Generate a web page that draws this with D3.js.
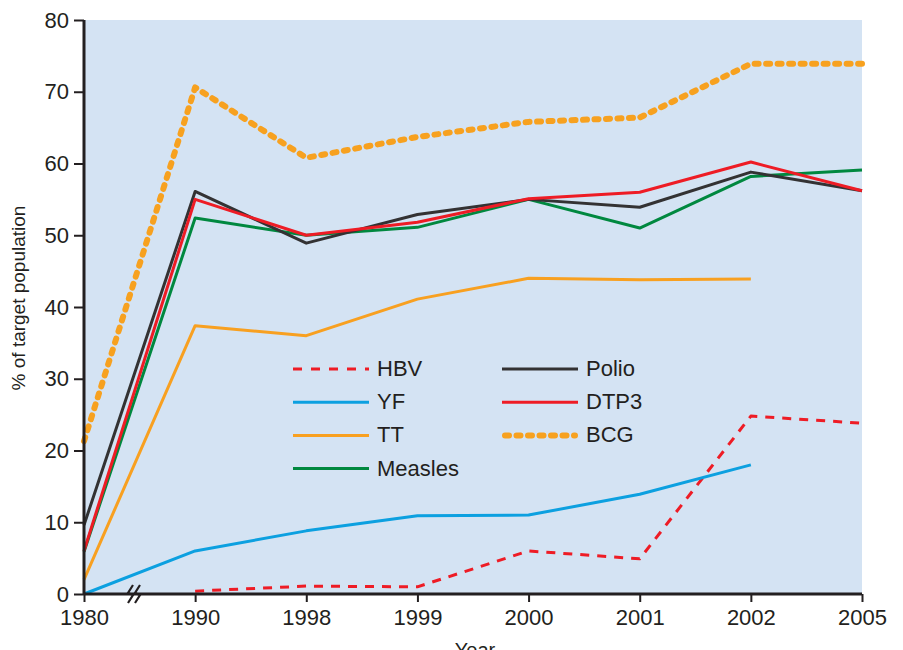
<!DOCTYPE html>
<html>
<head>
<meta charset="utf-8">
<script src="https://cdn.jsdelivr.net/npm/d3@7"></script>
<style>
body { margin: 0; background: #fff; }
svg { font-family: "Liberation Sans", Arial, sans-serif; }
</style>
</head>
<body>
<svg id="chart" width="903" height="650"></svg>
<script>
var years = ['1980', '1990', '1998', '1999', '2000', '2001', '2002', '2005'];
var yTicks = [0, 10, 20, 30, 40, 50, 60, 70, 80];

var hbv = [null, 0.4, 1.1, 1.0, 6.0, 4.9, 24.8, 23.8];
var yf = [0, 6.0, 8.8, 10.9, 11.0, 13.9, 18.0, null];
var tt = [2.0, 37.4, 36.0, 41.1, 44.0, 43.8, 43.9, null];
var measles = [5.9, 52.4, 50.0, 51.1, 55.0, 51.0, 58.2, 59.1];
var polio = [9.6, 56.1, 48.9, 52.9, 55.0, 53.9, 58.8, 56.2];
var dtp3 = [6.0, 55.0, 50.0, 51.8, 55.1, 56.0, 60.2, 56.2];
var bcg = [21.3, 70.6, 60.8, 63.7, 65.8, 66.4, 73.9, 73.9];

var series = [
    {name: 'HBV', values: hbv, color: '#ee1c25', width: 3, dash: '9,8', cap: 'butt'},
    {name: 'YF', values: yf, color: '#0ca0e0', width: 3, dash: null, cap: 'butt'},
    {name: 'TT', values: tt, color: '#f8a020', width: 3, dash: null, cap: 'butt'},
    {name: 'Measles', values: measles, color: '#00883f', width: 3, dash: null, cap: 'butt'},
    {name: 'Polio', values: polio, color: '#333233', width: 3, dash: null, cap: 'butt'},
    {name: 'DTP3', values: dtp3, color: '#ee1c25', width: 3, dash: null, cap: 'butt'},
    {name: 'BCG', values: bcg, color: '#f7a11f', width: 6, dash: '4,7.5', cap: 'round'}
];
// drawing order: back to front
var drawOrder = ['HBV', 'YF', 'TT', 'Measles', 'Polio', 'DTP3', 'BCG'];

var margin = {left: 84, right: 41, top: 20, bottom: 56};
var W = 903, H = 650;
var fontSize = '22px';
var svg = d3.select('#chart');

var x = d3.scalePoint().domain(years).range([margin.left, W - margin.right]);
var y = d3.scaleLinear().domain([0, 80]).range([H - margin.bottom, margin.top]);

svg.append('rect')
    .attr('x', margin.left).attr('y', margin.top)
    .attr('width', W - margin.right - margin.left)
    .attr('height', H - margin.bottom - margin.top)
    .attr('fill', '#d4e3f3');

var line = d3.line()
    .defined(function(d) { return d != null; })
    .x(function(d, i) { return x(years[i]); })
    .y(function(d) { return y(d); });

var lineLayer = svg.append('g').attr('class', 'lines');
drawOrder.forEach(function(n) {
    var s = series.find(function(d) { return d.name === n; });
    lineLayer.append('path')
        .attr('d', line(s.values))
        .attr('fill', 'none')
        .attr('stroke', s.color)
        .attr('stroke-width', s.width)
        .attr('stroke-dasharray', s.dash)
        .attr('stroke-linecap', s.cap)
        .attr('stroke-linejoin', 'round');
});

// axes
var axisColor = '#231f20';
var yAxis = svg.append('g')
    .attr('transform', 'translate(' + margin.left + ',0)')
    .call(d3.axisLeft(y).tickValues(yTicks).tickSize(10).tickPadding(5));
var xAxis = svg.append('g')
    .attr('transform', 'translate(0,' + (H - margin.bottom) + ')')
    .call(d3.axisBottom(x).tickSize(8).tickPadding(7));
[yAxis, xAxis].forEach(function(a) {
    a.select('.domain').attr('stroke', axisColor).attr('stroke-width', 3);
    a.selectAll('.tick line').attr('stroke', axisColor).attr('stroke-width', 2);
    a.selectAll('.tick text').attr('fill', axisColor)
        .style('font-size', fontSize).style('font-family', '"Liberation Sans", Arial, sans-serif');
});
yAxis.select('.domain').attr('d', 'M0,' + (H - margin.bottom) + 'V' + margin.top);
xAxis.select('.domain').attr('d', 'M' + margin.left + ',0H' + (W - margin.right));

// axis break mark between 1980 and 1990
var bx = 130, by = H - margin.bottom;
var brk = svg.append('g').attr('transform', 'translate(' + bx + ',' + by + ')');
[0, 7].forEach(function(off) {
    brk.append('path')
        .attr('d', 'M' + (off + 3) + ',-9 L' + (off - 2) + ',-1 L' + (off + 3) + ',1 L' + (off - 2) + ',9')
        .attr('fill', 'none')
        .attr('stroke', axisColor)
        .attr('stroke-width', 2.2)
        .attr('stroke-linejoin', 'miter');
});

svg.append('text')
    .attr('transform', 'translate(25,' + 298 + ') rotate(-90)')
    .attr('text-anchor', 'middle')
    .attr('fill', axisColor)
    .style('font-size', '19px')
    .text('% of target population');

svg.append('text')
    .attr('x', 475).attr('y', 657)
    .attr('text-anchor', 'middle')
    .attr('fill', axisColor)
    .style('font-size', '20px')
    .text('Year');

// legend
var legendCols = [
    {x: 293, names: ['HBV', 'YF', 'TT', 'Measles']},
    {x: 502, names: ['Polio', 'DTP3', 'BCG']}
];
var legend = svg.append('g').attr('class', 'legend');
legendCols.forEach(function(col) {
    col.names.forEach(function(n, i) {
        var s = series.find(function(d) { return d.name === n; });
        var ly = 369 + i * 33.2;
        var x0 = col.x, x1 = col.x + 76;
        if (s.cap === 'round') { x0 += 3; x1 -= 3; }
        legend.append('line')
            .attr('x1', x0).attr('x2', x1)
            .attr('y1', ly).attr('y2', ly)
            .attr('stroke', s.color)
            .attr('stroke-width', s.width)
            .attr('stroke-dasharray', s.name === 'HBV' ? '9,9' : s.dash)
            .attr('stroke-linecap', s.cap);
        legend.append('text')
            .attr('x', col.x + 84).attr('y', ly + 7)
            .attr('fill', axisColor)
            .style('font-size', fontSize)
            .text(n);
    });
});
</script>
</body>
</html>
